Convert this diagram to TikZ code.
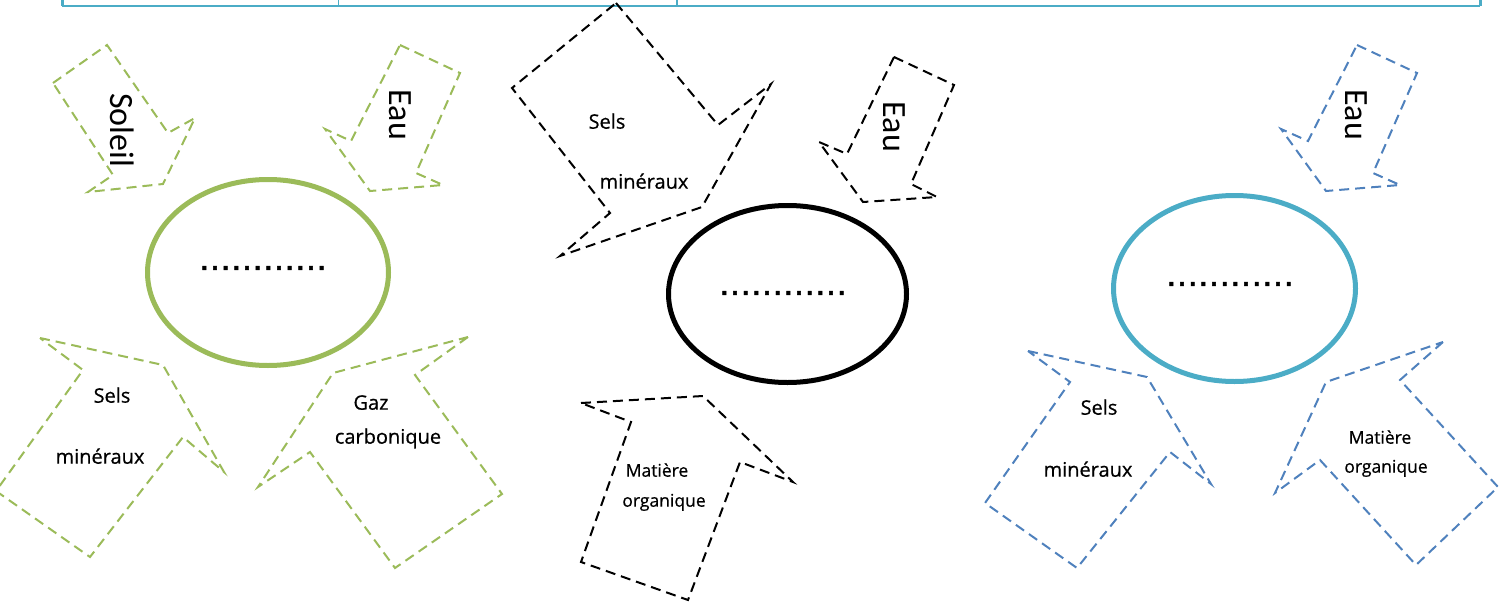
\documentclass[tikz,border=0pt]{standalone}
\usepackage{fontspec}
\setmainfont{Open Sans}
\newfontfamily\lblfont{Open Sans}[FakeBold=0.6]
\newfontfamily\calibfont{Carlito}
\newfontfamily\dotfont{DejaVu Sans}[FakeBold=1.5]
\usetikzlibrary{shapes.geometric}
\definecolor{grn}{HTML}{9BBB59}
\definecolor{tblue}{HTML}{4BACC6}
\definecolor{dblue}{HTML}{4F81BD}
\begin{document}
\begin{tikzpicture}[x=1pt,y=-1pt,
  arrowshape/.style={dash pattern=on 10pt off 6pt, line width=2pt, line join=miter},
  lbl/.style={font=\lblfont\fontsize{20}{22}\selectfont, inner sep=0pt, anchor=mid, yshift=-3pt},
  slbl/.style={font=\lblfont\fontsize{17.5}{20}\selectfont, inner sep=0pt, anchor=mid, yshift=-2pt},
  vlbl/.style={font=\calibfont\fontsize{34}{38}\selectfont, inner sep=0pt, rotate=-90},
  oval/.style={ellipse, line width=5pt, inner sep=0pt},
  dots/.style={font=\dotfont\fontsize{32}{36}\selectfont, inner sep=0pt},
  tbl/.style={draw=tblue}
]
\useasboundingbox (0,0) rectangle (1503,607);

% table bottom
\coordinate (t0) at (62,0);
\coordinate (t1) at (338,0);
\coordinate (t2) at (677,0);
\coordinate (t3) at (1480,0);
\coordinate (b0) at (62,6);
\coordinate (b1) at (338,6);
\coordinate (b2) at (677,6);
\coordinate (b3) at (1480,6);
\draw[tbl, line width=2.5pt] (b0) -- (b3);
\draw[tbl, line width=3pt] (t0) -- (b0);
\draw[tbl, line width=1pt] (t1) -- (b1);
\draw[tbl, line width=1.5pt] (t2) -- (b2);
\draw[tbl, line width=3pt] (t3) -- (b3);

% ---------- left group (green)
\node[oval, draw=grn, minimum width=241pt, minimum height=186pt] (e1) at (268,272.5) {};
\node[dots] (d1) at (263,268) {…………};
\draw[arrowshape, grn] (53,83) -- (107,45) -- (168,133) -- (195,118) -- (163,184) -- (88,192) -- (113,175) -- cycle;
\node[vlbl] (soleil) at (122,130) {Soleil};
\draw[arrowshape, grn] (400,45) -- (460,73) -- (416,173) -- (443,185) -- (370,191) -- (325,129) -- (351,141) -- cycle;
\node[vlbl] (eau1) at (400,115) {Eau};
\draw[arrowshape, grn] (40,338) -- (163,365) -- (224,472) -- (183,437) -- (90,557) -- (-4,491) -- (83,370) -- cycle;
\node[lbl] (sels1) at (112,397) {Sels};
\node[lbl] (min1) at (100,458) {minéraux};
\draw[arrowshape, grn] (468,337) -- (415,375) -- (502,494) -- (395,568) -- (310,452) -- (258,487) -- (333,373) -- cycle;
\node[lbl] (gaz) at (371,404) {Gaz};
\node[lbl] (carb) at (388,438) {carbonique};

% ---------- middle group (black)
\node[oval, draw=black, minimum width=238pt, minimum height=177pt] (e2) at (787.5,294) {};
\node[dots] (d2) at (783,293) {…………};
\draw[arrowshape, black] (616,3) -- (718,125) -- (771,84) -- (702,207) -- (560,256) -- (610,213) -- (512,88) -- cycle;
\node[lbl] (sels2) at (607,123) {Sels};
\node[lbl] (min2) at (644,183) {minéraux};
\draw[arrowshape, black] (894,57) -- (954,85) -- (911,184) -- (937,197) -- (863,202) -- (819,142) -- (847,154) -- cycle;
\node[vlbl] (eau2) at (894,127) {Eau};
\draw[arrowshape, black] (581,403) -- (703,396) -- (793,482) -- (740,462) -- (688,600) -- (581,562) -- (631,422) -- cycle;
\node[slbl] (mat2) at (657,472) {Matière};
\node[slbl] (org2) at (664,502) {organique};

% ---------- right group (blue)
\node[oval, draw=tblue, minimum width=242pt, minimum height=186pt] (e3) at (1234.5,288.5) {};
\node[dots] (d3) at (1230,284) {…………};
\draw[arrowshape, dblue] (1357,45) -- (1417,73) -- (1373,173) -- (1400,185) -- (1326,191) -- (1281,129) -- (1308,141) -- cycle;
\node[vlbl] (eau3) at (1356,115) {Eau};
\draw[arrowshape, dblue] (1028,351) -- (1147,377) -- (1211,484) -- (1170,452) -- (1077,568) -- (985,503) -- (1070,382) -- cycle;
\node[lbl] (sels3) at (1099,409) {Sels};
\node[lbl] (min3) at (1088,471) {minéraux};
\draw[arrowshape, dblue] (1443,342) -- (1400,380) -- (1498,487) -- (1416,565) -- (1320,460) -- (1275,493) -- (1326,382) -- cycle;
\node[slbl] (mat3) at (1380,439) {Matière};
\node[slbl] (org3) at (1386,468) {organique};
\end{tikzpicture}
\end{document}
